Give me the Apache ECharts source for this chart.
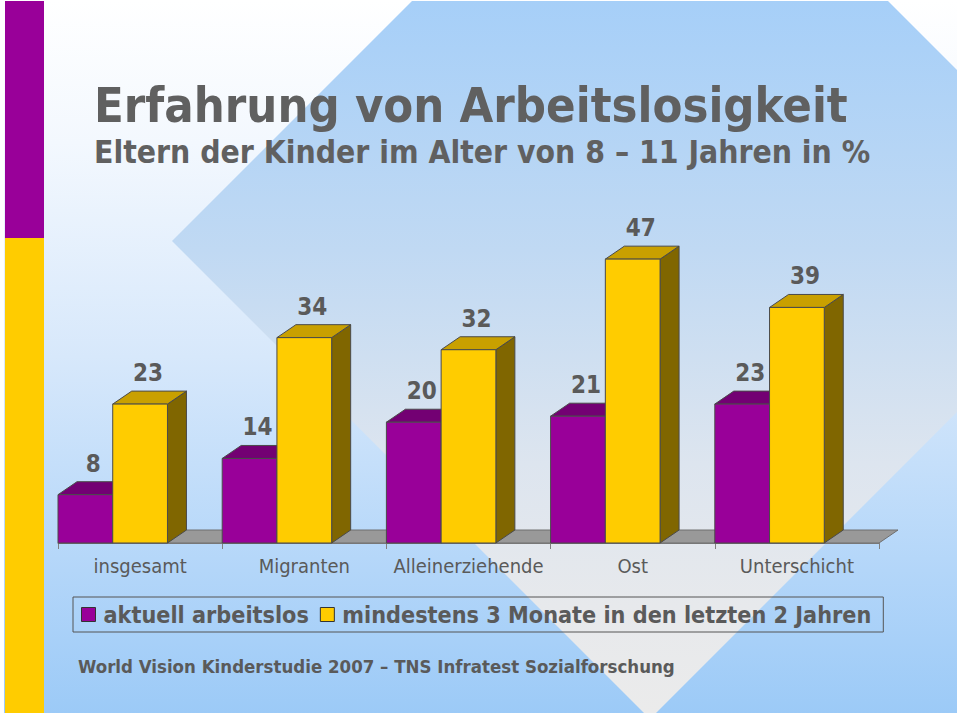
<!DOCTYPE html>
<html>
<head>
<meta charset="utf-8">
<script src="https://cdn.jsdelivr.net/npm/echarts@6/dist/echarts.min.js"></script>
<style>
html,body{margin:0;padding:0;background:#ffffff;}
#chart{width:960px;height:716px;}
</style>
</head>
<body>
<div id="chart"></div>
<script>
var categories = ['insgesamt', 'Migranten', 'Alleinerziehende', 'Ost', 'Unterschicht'];
var aktuellArbeitslos = [8, 14, 20, 21, 23];
var mindestens3Monate = [23, 34, 32, 47, 39];
var seriesNames = ['aktuell arbeitslos', 'mindestens 3 Monate in den letzten 2 Jahren'];
var titleText = 'Erfahrung von Arbeitslosigkeit';
var subtitleText = 'Eltern der Kinder im Alter von 8 \u2013 11 Jahren in %';
var sourceText = 'World Vision Kinderstudie 2007 \u2013 TNS Infratest Sozialforschung';

var FONT = '"DejaVu Sans Condensed", "DejaVu Sans", sans-serif';
var TXT = '#5a5a5a';
var DEPTH_X = 0.1157, DEPTH_Y = -0.079;

function barRenderer(slot, front, top, side) {
  return function (params, api) {
    var i = api.value(0), v = api.value(1);
    var base = api.coord([i, 0]);
    var tp = api.coord([i, v]);
    var band = api.size([1, 0])[0];
    var w = band / 3;
    var x0 = base[0] - band / 2 + slot * w;
    var x1 = x0 + w;
    var yb = base[1], yt = tp[1];
    var dx = band * DEPTH_X, dy = band * DEPTH_Y;
    var stroke = '#4a4a4a';
    return {
      type: 'group',
      children: [
        {type: 'polygon', shape: {points: [[x1, yb], [x1 + dx, yb + dy], [x1 + dx, yt + dy], [x1, yt]]},
         style: {fill: side, stroke: stroke, lineWidth: 1}},
        {type: 'polygon', shape: {points: [[x0, yt], [x1, yt], [x1 + dx, yt + dy], [x0 + dx, yt + dy]]},
         style: {fill: top, stroke: stroke, lineWidth: 1}},
        {type: 'rect', shape: {x: x0, y: yt, width: w, height: yb - yt},
         style: {fill: front, stroke: stroke, lineWidth: 1}},
        {type: 'text', z2: 10, style: {text: String(v), x: (x0 + x1) / 2 + 8, y: yt - 31,
         align: 'center', verticalAlign: 'middle', fontSize: 24, fontWeight: 'bold',
         fontFamily: FONT, fill: TXT}}
      ]
    };
  };
}

function floorRenderer(params, api) {
  var cs = params.coordSys;
  var band = cs.width / categories.length;
  var dx = band * DEPTH_X, dy = band * DEPTH_Y;
  var yb = cs.y + cs.height;
  return {
    type: 'polygon',
    shape: {points: [[cs.x, yb], [cs.x + cs.width, yb], [cs.x + cs.width + dx, yb + dy], [cs.x + dx, yb + dy]]},
    style: {fill: '#999999', stroke: '#6e6e6e', lineWidth: 1}
  };
}

var chart = echarts.init(document.getElementById('chart'), null, {renderer: 'svg'});

var option = {
  animation: false,
  graphic: [
    {type: 'rect', z: -100, silent: true, shape: {x: 4, y: 1, width: 953, height: 712},
     style: {fill: new echarts.graphic.LinearGradient(0, 0, 0, 713, [
       {offset: 0, color: '#ffffff'}, {offset: 0.2, color: '#f3f8fe'},
       {offset: 0.5, color: '#d7e8fb'}, {offset: 0.8, color: '#b3d6f9'},
       {offset: 1, color: '#9ccaf7'}], true)}},
    {type: 'polygon', z: -99, silent: true,
     shape: {points: [[172, 241], [412, 1], [888, 1], [957, 70], [957, 412], [656, 713], [644, 713]]},
     style: {fill: new echarts.graphic.LinearGradient(0, 0, 0, 713, [
       {offset: 0, color: '#a6cff8'}, {offset: 0.35, color: '#c0d9f3'},
       {offset: 0.65, color: '#dde5ef'}, {offset: 0.85, color: '#e7e9ec'},
       {offset: 1, color: '#ebebeb'}], true)}},
    {type: 'rect', z: -98, silent: true, shape: {x: 5, y: 1, width: 39, height: 237}, style: {fill: '#990099'}},
    {type: 'rect', z: -98, silent: true, shape: {x: 5, y: 238, width: 39, height: 475}, style: {fill: '#ffcc00'}}
  ],
  title: [
    {text: titleText, left: 94, top: 81, padding: 0,
     textStyle: {fontFamily: FONT, fontSize: 48.5, fontWeight: 'bold', color: '#606060', lineHeight: 48}},
    {text: subtitleText, left: 94, top: 136, padding: 0,
     textStyle: {fontFamily: FONT, fontSize: 31.6, fontWeight: 'bold', color: '#606060', lineHeight: 32}},
    {text: sourceText, left: 78, top: 656, padding: 0,
     textStyle: {fontFamily: FONT, fontSize: 18.5, fontWeight: 'bold', color: TXT, lineHeight: 20}}
  ],
  legend: {
    data: seriesNames, left: 73, top: 597, orient: 'horizontal',
    icon: 'rect', itemWidth: 14, itemHeight: 14, itemGap: 11,
    padding: [6, 12, 6, 8], borderColor: '#555555', borderWidth: 1,
    textStyle: {fontFamily: FONT, fontSize: 23.2, fontWeight: 'bold', color: TXT, padding: [0, 0, 0, 3]},
    itemStyle: {borderColor: '#333333', borderWidth: 1}
  },
  grid: {left: 58, right: 81, top: 241, bottom: 173},
  xAxis: {
    type: 'category', data: categories,
    axisLine: {lineStyle: {color: '#808080', width: 1}},
    axisTick: {show: true, length: 6, alignWithLabel: false, lineStyle: {color: '#808080'}},
    axisLabel: {interval: 0, margin: 13, fontFamily: FONT, fontSize: 20, color: TXT}
  },
  yAxis: {type: 'value', min: 0, max: 50, show: false},
  series: [
    {type: 'custom', name: 'floor', silent: true, renderItem: floorRenderer, data: [[0, 0]], z: 1},
    {type: 'custom', name: seriesNames[0], renderItem: barRenderer(0, '#990099', '#730073', '#4d004d'),
     itemStyle: {color: '#990099'}, z: 2,
     data: aktuellArbeitslos.map(function (v, i) { return [i, v]; })},
    {type: 'custom', name: seriesNames[1], renderItem: barRenderer(1, '#ffcc00', '#c9a000', '#806600'),
     itemStyle: {color: '#ffcc00'}, z: 3,
     data: mindestens3Monate.map(function (v, i) { return [i, v]; })}
  ]
};
chart.setOption(option);
</script>
</body>
</html>
